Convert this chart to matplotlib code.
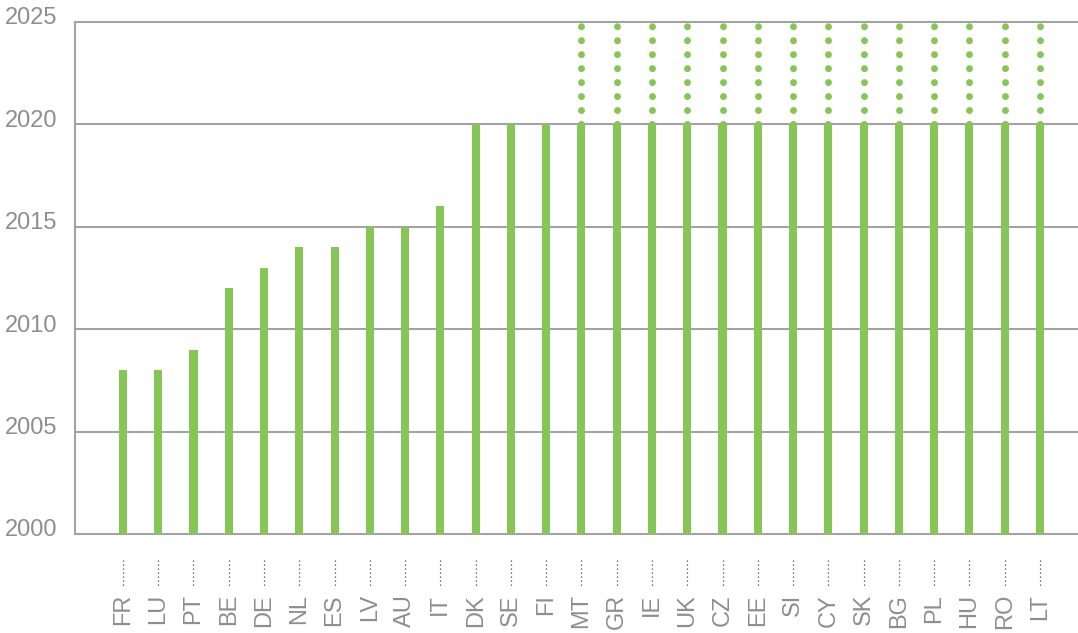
"""Year of full smart-meter rollout by country (reproduction)."""

import matplotlib

matplotlib.use("Agg")
import matplotlib.pyplot as plt
import matplotlib.transforms as mtransforms

COUNTRIES = ["FR", "LU", "PT", "BE", "DE", "NL", "ES", "LV", "AU", "IT",
             "DK", "SE", "FI", "MT", "GR", "IE", "UK", "CZ", "EE", "SI",
             "CY", "SK", "BG", "PL", "HU", "RO", "LT"]
YEARS = [2008, 2008, 2009, 2012, 2013, 2014, 2014, 2015, 2015, 2016,
         2020, 2020, 2020, 2020, 2020, 2020, 2020, 2020, 2020, 2020,
         2020, 2020, 2020, 2020, 2020, 2020, 2020]
# countries whose rollout extends (dotted) beyond 2020
EXTENDED_TO = [None] * 13 + [2025] * 14
Y_TICKS = [2000, 2005, 2010, 2015, 2020, 2025]

GREEN = "#86c556"
GRID = "#a3a3a3"
TEXT = "#8e8e8e"
BASE = 2000
FS = 17

plt.rcParams["font.family"] = ["Liberation Sans", "DejaVu Sans"]

fig = plt.figure(figsize=(10.78, 6.33), dpi=100)
ax = fig.add_axes([75 / 1078, 1 - 534 / 633, 1003 / 1078, 512 / 633])

x = list(range(len(COUNTRIES)))
ax.bar(x, [y - BASE for y in YEARS], bottom=BASE, width=0.23,
       color=GREEN, zorder=3)

for xi, start, end in zip(x, YEARS, EXTENDED_TO):
    if end is None:
        continue
    ax.plot([xi, xi], [start, end], color=GREEN, lw=5.0,
            dashes=(0.01, 2.0), dash_capstyle="round", solid_capstyle="round",
            zorder=3, clip_on=False)

ax.set_xlim(-1.36, 27.08)
ax.set_ylim(BASE, 2025)

for yt in Y_TICKS:
    ax.axhline(yt, color=GRID, lw=1.5, zorder=1, clip_on=False)

for s in ["top", "right", "bottom"]:
    ax.spines[s].set_visible(False)
ax.spines["left"].set_color(GRID)
ax.spines["left"].set_linewidth(1.5)

ax.set_xticks([])
ax.set_yticks(Y_TICKS)
ax.set_yticklabels([str(t) for t in Y_TICKS], fontsize=FS, color=TEXT)
ax.tick_params(axis="y", length=0, pad=13)
up = mtransforms.ScaledTranslation(0, 6 / 100, fig.dpi_scale_trans)
for lab in ax.get_yticklabels():
    lab.set_transform(lab.get_transform() + up)

# rotated country labels with a small dotted leader above each
blend = mtransforms.blended_transform_factory(ax.transData, ax.transAxes)
for xi, name in zip(x, COUNTRIES):
    ax.text(xi, -60 / 512, name, transform=blend, rotation=90,
            ha="center", va="top", fontsize=FS, color=TEXT, clip_on=False)
    ax.plot([xi, xi], [-26 / 512, -53 / 512], transform=blend,
            color="#444444", lw=0.9, ls=(0, (1, 2.2)), clip_on=False)

fig.savefig("out.png", dpi=100)
